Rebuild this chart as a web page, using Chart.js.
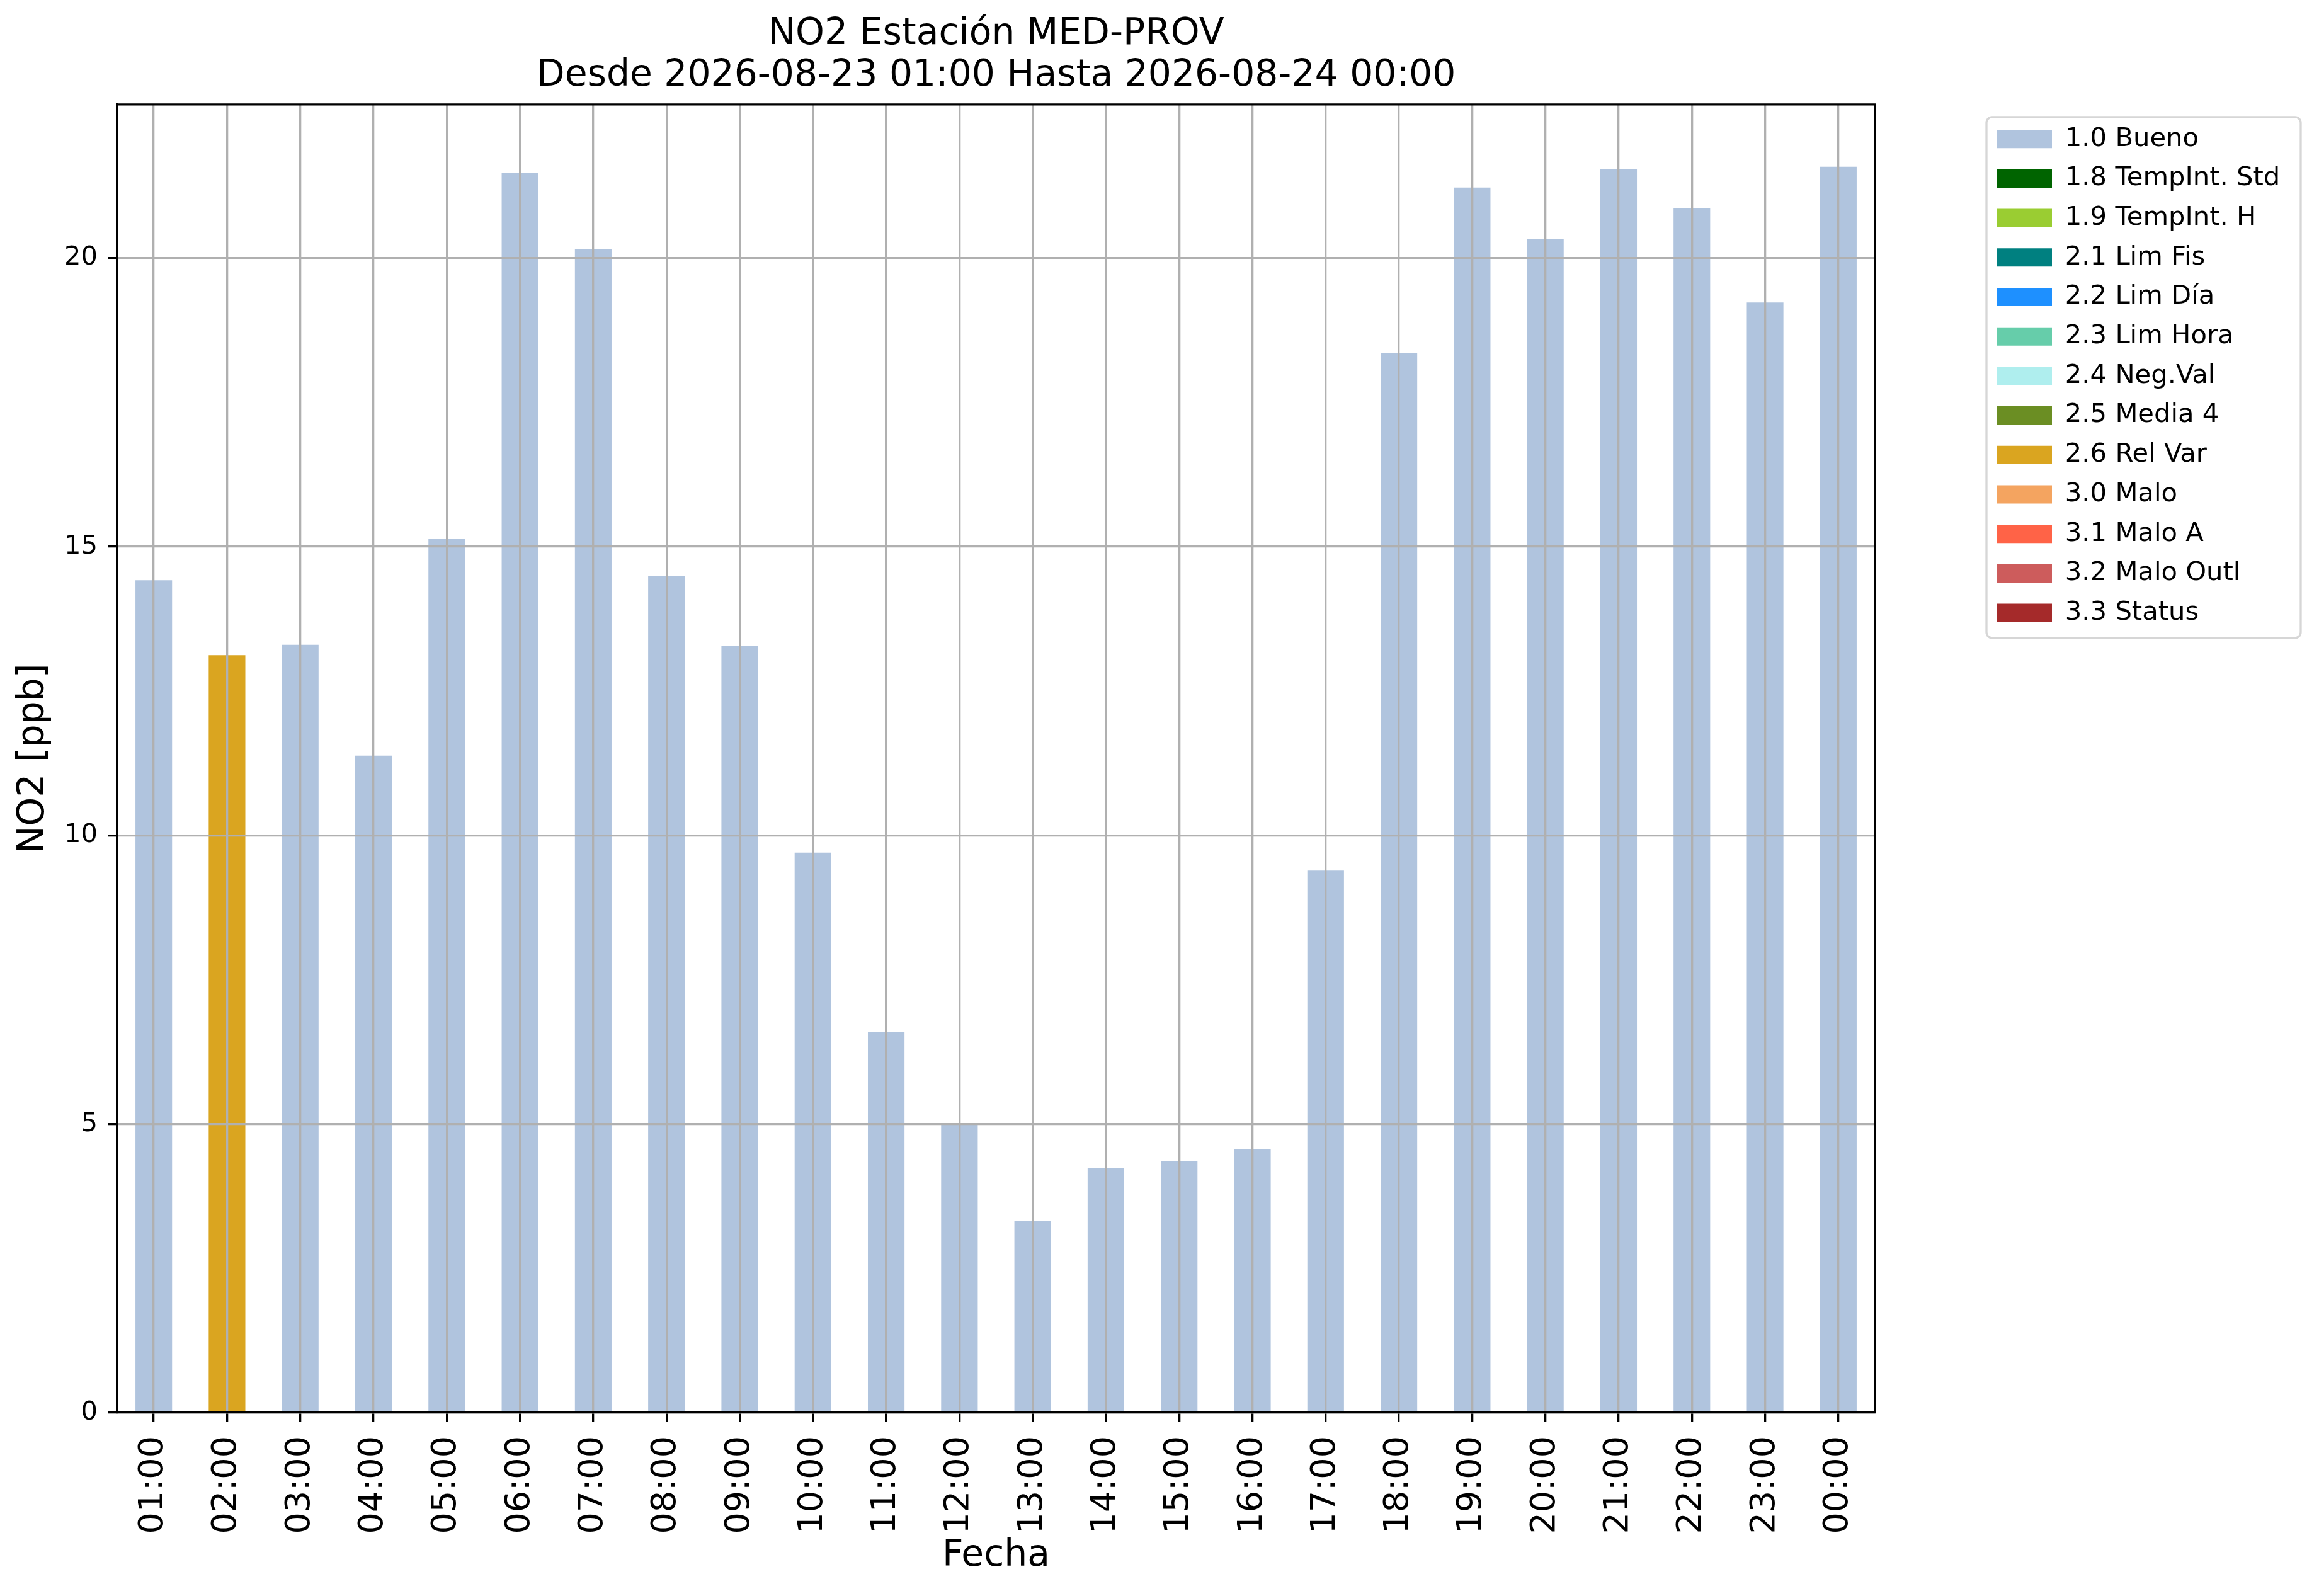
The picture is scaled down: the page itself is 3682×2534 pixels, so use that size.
<!DOCTYPE html>
<html>
<head>
<meta charset="utf-8">
<title>NO2 MED-PROV</title>
<script src="https://cdn.jsdelivr.net/npm/chart.js@4.4.1/dist/chart.umd.min.js"></script>
<style>
  html, body { margin: 0; padding: 0; background: #fff; overflow: hidden; }
  #box { width: 3682px; height: 2534px; }
</style>
</head>
<body>
<div id="box"><canvas id="myChart" width="3682" height="2534"></canvas></div>
<script>
'use strict';

// data
let hours = ['01:00','02:00','03:00','04:00','05:00','06:00','07:00','08:00','09:00','10:00','11:00','12:00',
             '13:00','14:00','15:00','16:00','17:00','18:00','19:00','20:00','21:00','22:00','23:00','00:00'];
let no2 = [14.42, 13.12, 13.30, 11.38, 15.14, 21.47, 20.16, 14.49, 13.28, 9.70, 6.60, 4.99,
           3.32, 4.24, 4.36, 4.57, 9.39, 18.36, 21.22, 20.33, 21.54, 20.87, 19.23, 21.58];
let hourFlags = ['1.0','2.6','1.0','1.0','1.0','1.0','1.0','1.0','1.0','1.0','1.0','1.0',
                 '1.0','1.0','1.0','1.0','1.0','1.0','1.0','1.0','1.0','1.0','1.0','1.0'];

let flagCodes = ['1.0','1.8','1.9','2.1','2.2','2.3','2.4','2.5','2.6','3.0','3.1','3.2','3.3'];
let flagNames = ['Bueno','TempInt. Std','TempInt. H','Lim Fis','Lim Día','Lim Hora','Neg.Val',
                 'Media 4','Rel Var','Malo','Malo A','Malo Outl','Status'];
let flagColors = ['#b0c4de','#006400','#9acd32','#008080','#1e90ff','#66cdaa','#afeeee',
                  '#6b8e23','#daa520','#f4a460','#ff6347','#cd5c5c','#a52a2a'];

let yTicks = [0, 5, 10, 15, 20];
let yMax = 22.66;

let titleLines = ['NO2 Estación MED-PROV', 'Desde 2026-08-23 01:00 Hasta 2026-08-24 00:00'];

// one stacked dataset per flag, a bar only where the hour has that flag
let datasets = [];
for (let i = 0; i < flagCodes.length; i++) {
    datasets.push({
        label: flagCodes[i] + ' ' + flagNames[i],
        data: no2.map((v, j) => hourFlags[j] === flagCodes[i] ? v : null),
        backgroundColor: flagColors[i],
        borderWidth: 0,
        barPercentage: 0.5,
        categoryPercentage: 1.0
    });
}

const FONT = 'DejaVu Sans';
const GRID = '#b0b0b0';
const LW = 3.3;
const LEGEND_W = 533;

Chart.defaults.font.family = FONT;
Chart.defaults.color = '#000';

// frame round the plot (top + right spines) and the legend box
const framePlugin = {
    id: 'frames',
    afterInit(chart) {
        let fit0 = chart.legend.fit;
        chart.legend.fit = function () {
            fit0.call(this);
            this.width = LEGEND_W;
        };
    },
    afterDraw(chart) {
        let ctx = chart.ctx;
        let a = chart.chartArea;
        ctx.save();
        ctx.strokeStyle = '#000';
        ctx.lineWidth = LW;
        ctx.beginPath();
        ctx.moveTo(a.left, a.top);
        ctx.lineTo(a.right, a.top);
        ctx.lineTo(a.right, a.bottom);
        ctx.stroke();

        let lg = chart.legend;
        let hb = lg.legendHitBoxes;
        if (hb && hb.length) {
            let last = hb[hb.length - 1];
            let x0 = lg.left + 5;
            let y0 = hb[0].top - 14;
            let x1 = lg.right - 29;
            let y1 = last.top + last.height + 19;
            ctx.strokeStyle = '#d6d6d6';
            ctx.lineWidth = LW;
            ctx.beginPath();
            ctx.roundRect(x0, y0, x1 - x0, y1 - y0, 9);
            ctx.stroke();
        }
        ctx.restore();
    }
};

let ctx = document.getElementById('myChart').getContext('2d');
let myChart = new Chart(ctx, {
    type: 'bar',
    data: {
        labels: hours,
        datasets: datasets
    },
    plugins: [framePlugin],
    options: {
        responsive: false,
        devicePixelRatio: 1,
        animation: false,
        events: [],
        layout: { padding: 0 },
        plugins: {
            tooltip: { enabled: false },
            title: {
                display: true,
                text: titleLines,
                fullSize: false,
                color: '#000',
                font: { family: FONT, size: 58.33, weight: 'normal', lineHeight: 1.13 },
                padding: { top: 22, bottom: 12 }
            },
            legend: {
                display: true,
                position: 'right',
                align: 'start',
                fullSize: false,
                title: {
                    display: true,
                    text: '',
                    font: { size: 1, lineHeight: 1 },
                    padding: { top: 12, bottom: 0 }
                },
                labels: {
                    boxWidth: 88,
                    boxHeight: 29,
                    padding: 21,
                    color: '#000',
                    font: { family: FONT, size: 41.7 }
                }
            }
        },
        scales: {
            x: {
                stacked: true,
                offset: true,
                grid: {
                    offset: false,
                    color: GRID,
                    lineWidth: LW,
                    drawTicks: true,
                    tickLength: 15,
                    tickColor: '#000',
                    tickWidth: LW,
                    z: 1
                },
                border: { display: true, color: '#000', width: LW, z: 2 },
                ticks: {
                    autoSkip: false,
                    minRotation: 90,
                    maxRotation: 90,
                    padding: 22,
                    color: '#000',
                    font: { family: FONT, size: 54 }
                },
                title: {
                    display: true,
                    text: 'Fecha',
                    color: '#000',
                    font: { family: FONT, size: 58.33, lineHeight: 1.2 },
                    padding: 28
                },
                afterFit(scale) { scale.height = 291; }
            },
            y: {
                stacked: true,
                min: 0,
                max: yMax,
                afterBuildTicks(scale) { scale.ticks = yTicks.map(v => ({ value: v })); },
                grid: {
                    color: GRID,
                    lineWidth: LW,
                    drawTicks: true,
                    tickLength: 15,
                    tickColor: '#000',
                    tickWidth: LW,
                    z: 1
                },
                border: { display: true, color: '#000', width: LW, z: 2 },
                ticks: {
                    padding: 16,
                    color: '#000',
                    font: { family: FONT, size: 41.7 }
                },
                title: {
                    display: true,
                    text: 'NO2 [ppb]',
                    color: '#000',
                    font: { family: FONT, size: 58.33, lineHeight: 1.2 },
                    padding: 19
                },
                afterFit(scale) { scale.width = 186; }
            },
            yr: {
                type: 'linear',
                position: 'right',
                display: true,
                grid: { display: false, drawTicks: false },
                border: { display: false },
                ticks: { display: false },
                afterFit(scale) { scale.width = 172; }
            }
        }
    }
});
</script>
</body>
</html>
